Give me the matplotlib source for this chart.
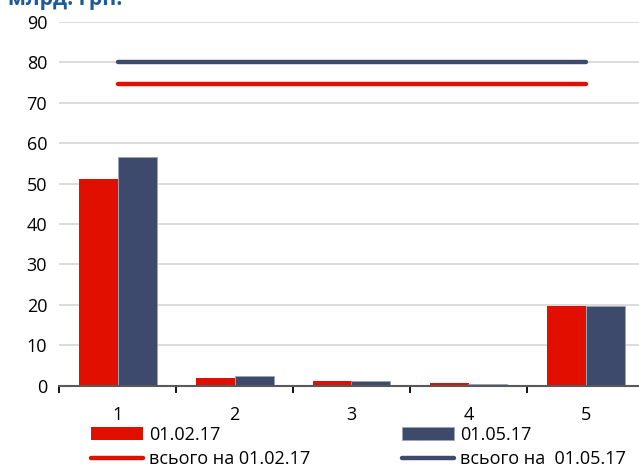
import matplotlib
matplotlib.use("Agg")
import matplotlib.pyplot as plt
import numpy as np

# Data
categories = ["1", "2", "3", "4", "5"]
values_0102 = [51.1, 1.8, 1.1, 0.7, 19.8]
values_0105 = [56.5, 2.35, 1.1, 0.45, 19.6]
total_0102 = [74.6, 74.6, 74.6, 74.6, 74.6]
total_0105 = [80.1, 80.1, 80.1, 80.1, 80.1]
labels = ["01.02.17", "01.05.17", "всього на 01.02.17", "всього на  01.05.17"]
y_ticks = [0, 10, 20, 30, 40, 50, 60, 70, 80, 90]
unit_title = "млрд. грн."

RED = "#E00F00"
NAVY = "#3D4A6B"
GRID = "#D9D9D9"
AXIS = "#595959"

plt.rcParams["font.family"] = ["Open Sans", "DejaVu Sans"]

W, H = 639, 469
fig = plt.figure(figsize=(W / 100, H / 100), dpi=100)
ax = fig.add_axes([59 / W, 1 - 385.5 / H, 585 / W, (385.5 - 22) / H])

x = np.arange(len(categories))
bw = 1 / 3
b1 = ax.bar(x - bw / 2, values_0102, width=bw, color=RED, zorder=3, label=labels[0])
b2 = ax.bar(x + bw / 2, values_0105, width=bw, color=NAVY, zorder=3,
            edgecolor="#9AA3B8", linewidth=0.6, label=labels[1])
l1, = ax.plot(x, total_0102, color=RED, lw=3.2, solid_capstyle="round", zorder=4, label=labels[2])
l2, = ax.plot(x, total_0105, color=NAVY, lw=3.2, solid_capstyle="round", zorder=4, label=labels[3])

ax.set_xlim(-0.5, len(categories) - 0.5)
ax.set_ylim(0, 90)
ax.set_yticks(y_ticks)
ax.yaxis.grid(True, color=GRID, lw=1.3, zorder=0)
ax.set_axisbelow(True)
ax.tick_params(axis="y", length=0, labelsize=13, pad=8.5)
for s in ["top", "right", "left"]:
    ax.spines[s].set_visible(False)
ax.spines["bottom"].set_color(AXIS)
ax.spines["bottom"].set_linewidth(1.5)
ax.spines["bottom"].set_zorder(5)

# category ticks sit on the boundaries, labels at centres
ax.set_xticks(np.arange(len(categories) + 1) - 0.5)
ax.set_xticklabels([])
ax.set_xticks(x, minor=True)
ax.set_xticklabels(categories, minor=True)
ax.tick_params(axis="x", which="major", length=5, width=1.3, color="#000000", direction="out")
ax.tick_params(axis="x", which="minor", length=0, labelsize=13, pad=15)

fig.text(8 / W, 1 - 5.5 / H, unit_title, color="#1F5B96", fontsize=15.3, fontweight="bold",
         ha="left", va="baseline")

fig.legend([b1, l1, b2, l2], [labels[0], labels[2], labels[1], labels[3]],
           ncol=2, loc="upper left", bbox_to_anchor=(91 / W, 1 - 426 / H),
           frameon=False, fontsize=13, handlelength=2.9, handleheight=0.68,
           handletextpad=0.3, labelspacing=0.32, columnspacing=5.1, borderpad=0,
           borderaxespad=0)

fig.savefig("out.png", dpi=100)
